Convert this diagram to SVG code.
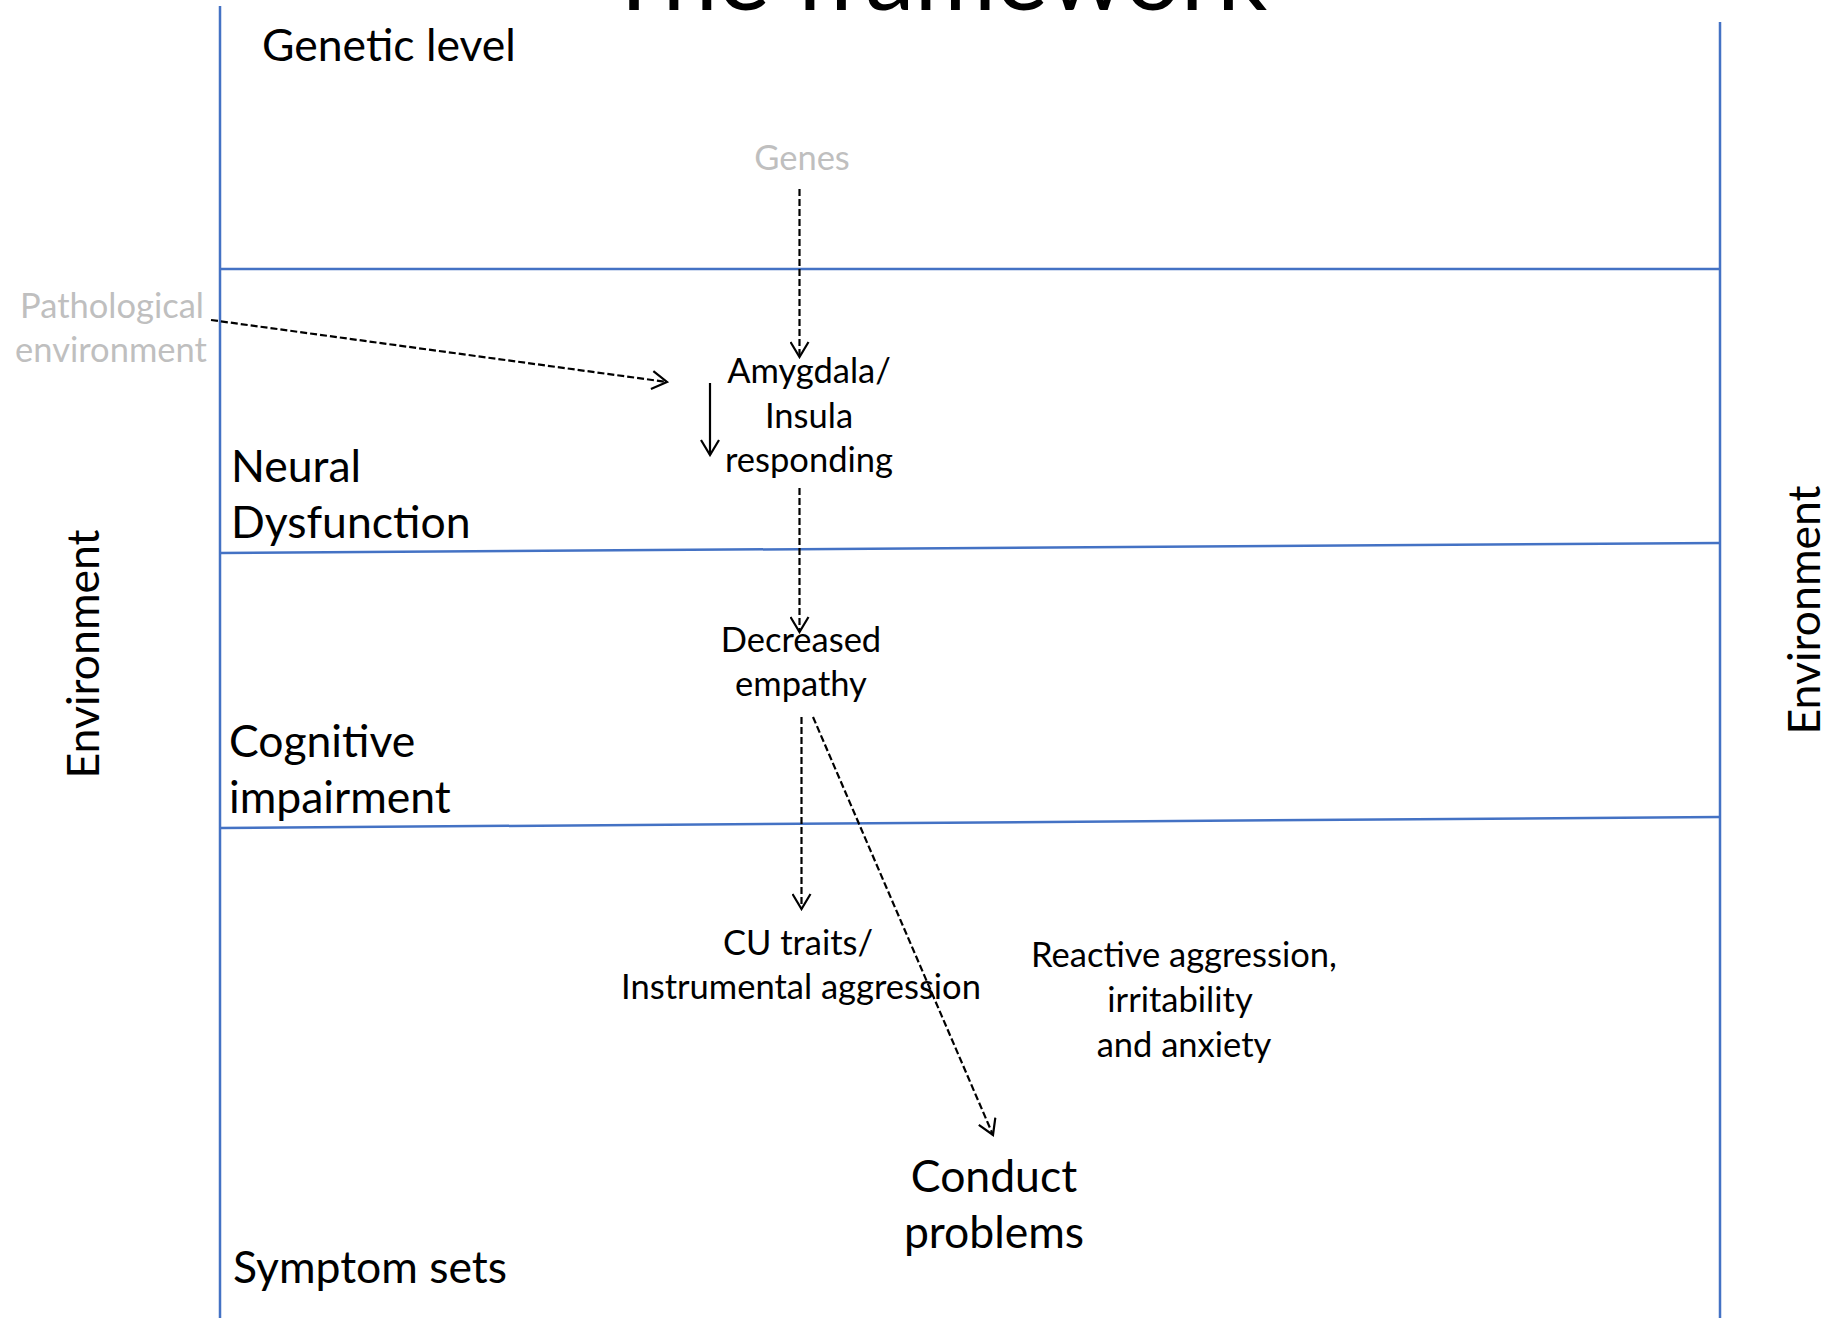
<svg xmlns="http://www.w3.org/2000/svg" width="1827" height="1318" viewBox="0 0 1827 1318">
  <defs>
    <marker id="open-arrow" viewBox="0 0 18 20" refX="16" refY="10" markerWidth="18" markerHeight="20" markerUnits="userSpaceOnUse" orient="auto">
      <path d="M1,1 L16,10 L1,19" fill="none" stroke="#000" stroke-width="2.2"/>
    </marker>
  </defs>
  <style>
    text { font-family: Lato, "Open Sans", "Liberation Sans", sans-serif; fill: #000; }
    .big { font-size: 44.5px; }
    .mid { font-size: 34.5px; }
    .grey { fill: #bfbfbf; }
    .c { text-anchor: middle; }
    .band { stroke: #4472C4; stroke-width: 2.5; fill: none; }
    .dash { stroke: #000; stroke-width: 2.2; stroke-dasharray: 7 3; fill: none; marker-end: url(#open-arrow); }
    .solid { stroke: #000; stroke-width: 2.2; fill: none; marker-end: url(#open-arrow); }
  </style>
  <rect width="1827" height="1318" fill="#fff"/>

  <!-- title, running off the top edge -->
  <text id="title" x="936" y="10" class="c" style="font-size:99px">The framework</text>

  <!-- level frame -->
  <g id="frame">
    <line class="band" x1="220" y1="6" x2="220" y2="1318"/>
    <line class="band" x1="1720" y1="22" x2="1720" y2="1318"/>
    <line class="band" x1="220" y1="269" x2="1720" y2="269"/>
    <line class="band" x1="220" y1="553" x2="1720" y2="543"/>
    <line class="band" x1="220" y1="828" x2="1720" y2="817"/>
  </g>

  <!-- level labels -->
  <g id="level-genetic"><text class="big" x="262" y="61">Genetic level</text></g>
  <g id="level-neural"><text class="big" x="231" y="482">Neural</text><text class="big" x="231" y="538">Dysfunction</text></g>
  <g id="level-cognitive"><text class="big" x="229" y="757">Cognitive</text><text class="big" x="229" y="813">impairment</text></g>
  <g id="level-symptom"><text class="big" x="233" y="1283">Symptom sets</text></g>
  <g id="env-left"><text class="big c" transform="translate(99,654) rotate(-90)">Environment</text></g>
  <g id="env-right"><text class="big c" transform="translate(1820,610) rotate(-90)">Environment</text></g>

  <!-- nodes -->
  <g id="genes"><text class="mid grey c" x="802" y="170">Genes</text></g>
  <g id="pathological-env">
    <text class="mid grey c" x="112" y="318">Pathological</text>
    <text class="mid grey c" x="111" y="362">environment</text>
  </g>
  <g id="amygdala">
    <text class="mid c" x="809" y="383">Amygdala/</text>
    <text class="mid c" x="809" y="428">Insula</text>
    <text class="mid c" x="809" y="472">responding</text>
  </g>
  <g id="empathy">
    <text class="mid c" x="801" y="652">Decreased</text>
    <text class="mid c" x="801" y="696">empathy</text>
  </g>
  <g id="cu-traits">
    <text class="mid c" x="798" y="955">CU traits/</text>
    <text class="mid c" x="801" y="999">Instrumental aggression</text>
  </g>
  <g id="reactive">
    <text class="mid c" x="1184" y="967">Reactive aggression,</text>
    <text class="mid c" x="1180" y="1012">irritability</text>
    <text class="mid c" x="1184" y="1057">and anxiety</text>
  </g>
  <g id="conduct">
    <text class="big c" x="994" y="1192">Conduct</text>
    <text class="big c" x="994" y="1248">problems</text>
  </g>

  <!-- connectors -->
  <g id="connectors">
    <line class="dash" x1="799.5" y1="189" x2="799.5" y2="357"/>
    <line class="dash" x1="211" y1="320" x2="667" y2="382"/>
    <line class="solid" x1="710" y1="383" x2="710" y2="455"/>
    <line class="dash" x1="799.5" y1="488" x2="799.5" y2="632"/>
    <line class="dash" x1="801.5" y1="717" x2="801.5" y2="909"/>
    <line class="dash" x1="813" y1="717" x2="993" y2="1135"/>
  </g>
</svg>
